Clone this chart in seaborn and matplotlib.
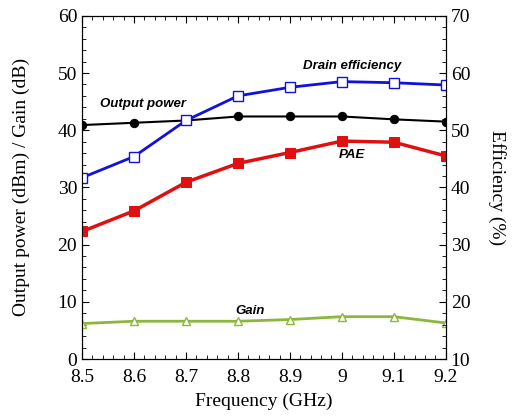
import numpy as np
import pandas as pd
import seaborn as sns
import matplotlib.pyplot as plt
from matplotlib.ticker import MultipleLocator

# frequencias (GHz)
freq = [8.5, 8.6, 8.7, 8.8, 8.9, 9.0, 9.1, 9.2]
# eixo esquerdo: potencia de saida (dBm) e ganho (dB)
output_power = [40.9, 41.3, 41.7, 42.4, 42.4, 42.4, 41.9, 41.5]
gain = [6.2, 6.6, 6.6, 6.6, 6.9, 7.4, 7.4, 6.3]
# eixo direito: eficiencia (%)
drain_eff = [41.7, 45.4, 51.7, 56.0, 57.5, 58.5, 58.3, 57.9]
pae = [32.3, 35.9, 40.9, 44.2, 46.1, 48.1, 47.9, 45.5]

df = pd.DataFrame({'freq': freq, 'pout': output_power, 'gain': gain,
                   'de': drain_eff, 'pae': pae})

sns.set_style('ticks', {'axes.edgecolor': 'black', 'text.color': 'black',
                        'xtick.color': 'black', 'ytick.color': 'black',
                        'axes.labelcolor': 'black'})
plt.rcParams['font.family'] = ['Liberation Serif', 'DejaVu Serif']
plt.rcParams['xtick.direction'] = 'in'
plt.rcParams['ytick.direction'] = 'in'

fig = plt.figure(figsize=(5.13, 4.16), dpi=100)
ax = fig.add_axes([0.16, 0.137, 0.709, 0.825])
ax2 = ax.twinx()

# eixo esquerdo
sns.lineplot(data=df, x='freq', y='gain', ax=ax, color='#8cb83a', lw=2,
             marker='^', ms=6, mfc='white', mec='#8cb83a', mew=1)
sns.lineplot(data=df, x='freq', y='pout', ax=ax, color='black', lw=1.5,
             marker='o', ms=6, mec='black', zorder=3)

# eixo direito
sns.lineplot(data=df, x='freq', y='de', ax=ax2, color='#1010e0', lw=2,
             marker='s', ms=7, mfc='white', mec='#1010e0', mew=1)
sns.lineplot(data=df, x='freq', y='pae', ax=ax2, color='#e01010', lw=2.5,
             marker='s', ms=7, mec='#e01010')

ax.set_xlim(8.5, 9.2)
ax.set_ylim(0, 60)
ax2.set_ylim(10, 70)
ax.xaxis.set_major_locator(MultipleLocator(0.1))
ax.xaxis.set_minor_locator(MultipleLocator(0.02))
ax.yaxis.set_major_locator(MultipleLocator(10))
ax.yaxis.set_minor_locator(MultipleLocator(2))
ax2.yaxis.set_major_locator(MultipleLocator(10))
ax2.yaxis.set_minor_locator(MultipleLocator(2))
ax.set_xticks(freq)
ax.set_xticklabels(['8.5', '8.6', '8.7', '8.8', '8.9', '9', '9.1', '9.2'])

for a in (ax, ax2):
    a.tick_params(which='both', top=True, labelsize=14, length=5)
    a.tick_params(which='minor', length=3)
ax.tick_params(axis='y', which='both', right=False)
ax.tick_params(axis='x', pad=7)

ax.set_xlabel('Frequency (GHz)', fontsize=14, labelpad=5)
ax.set_ylabel('Output power (dBm) / Gain (dB)', fontsize=14, labelpad=20)
ax2.set_ylabel('Efficiency (%)', fontsize=14, rotation=270, labelpad=26)

lbl = dict(fontsize=9.5, fontweight='heavy', style='italic',
           family=['Liberation Sans', 'DejaVu Sans'], ha='center', va='center')
ax.text(8.617, 44.6, 'Output power', **lbl)
ax.text(9.02, 51.2, 'Drain efficiency', **lbl)
ax.text(9.02, 35.7, 'PAE', **lbl)
ax.text(8.823, 8.4, 'Gain', **lbl)

plt.savefig('out.png', dpi=100)
